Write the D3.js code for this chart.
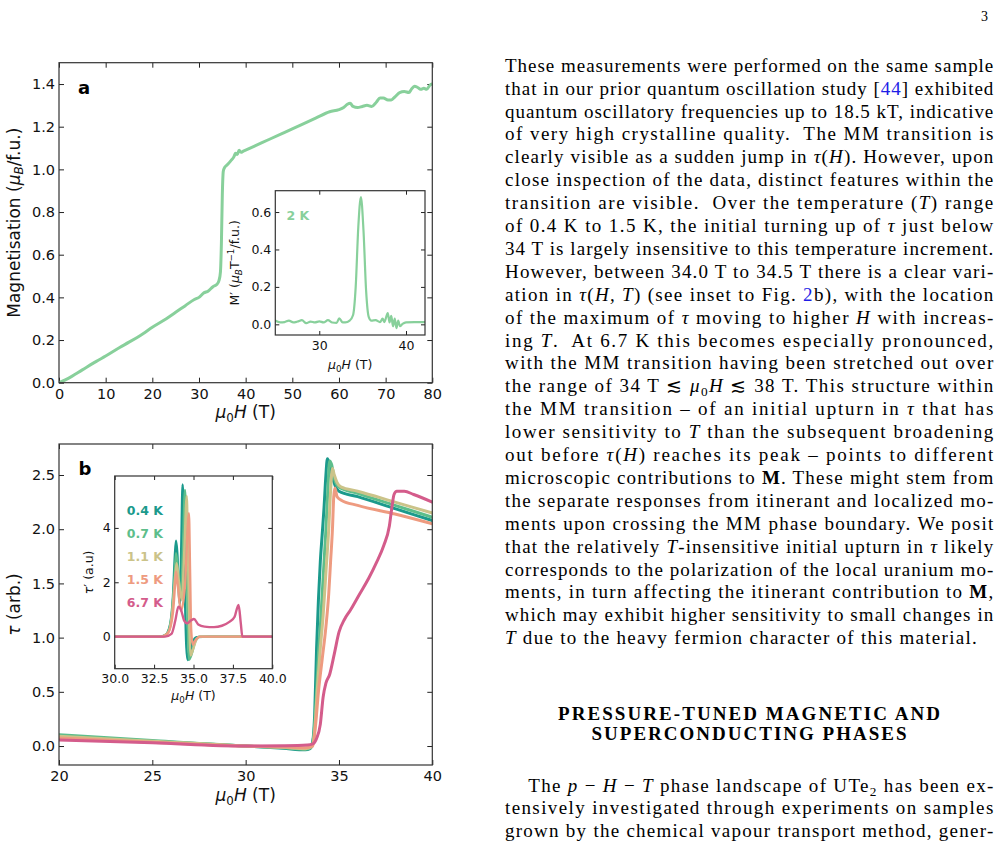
<!DOCTYPE html>
<html>
<head>
<meta charset="utf-8">
<script src="https://cdn.jsdelivr.net/npm/d3@7"></script>
<style>
  body { margin: 0; background: #fff; }
  svg text { font-family: "DejaVu Sans", sans-serif; white-space: pre; }
  .paper text { font-family: "Liberation Serif", "DejaVu Serif", serif; }
</style>
</head>
<body>
<svg id="page" width="1001" height="846"></svg>
<script>
// ---- panel a: magnetisation, 2 K
var magnetisation = [
  [0,0],[2,0.02],[5,0.06],[8,0.1],[10,0.125],[13,0.165],[15,0.19],[18,0.23],[20,0.26],
  [23,0.3],[25,0.33],[27,0.36],[29,0.39],[30,0.4],[31,0.42],[32,0.43],[33,0.45],[33.8,0.46],
  [34.3,0.48],[34.6,0.52],[34.8,0.65],[35.0,0.88],[35.2,0.99],[35.4,1.005],[36,1.02],
  [36.8,1.04],[37.5,1.06],[37.8,1.075],[38.2,1.07],[38.6,1.09],[39,1.08],[39.5,1.085],
  [40,1.09],[42,1.11],[45,1.14],[48,1.17],[50,1.19],[52,1.21],[55,1.24],[58,1.27],[60,1.28],
  [61,1.29],[61.8,1.305],[62.4,1.31],[63,1.295],[64,1.29],[65,1.295],[66,1.3],[67,1.295],
  [68,1.315],[68.8,1.335],[69.5,1.335],[70.5,1.325],[71.2,1.325],[72,1.34],[73,1.36],
  [74,1.365],[75,1.36],[75.5,1.375],[76.2,1.39],[76.8,1.385],[77.5,1.375],[78.2,1.38],
  [78.8,1.375],[79.5,1.395],[80,1.4]
]
var dMdH = [
  [24.9,0.02],[25.5,0.01],[26,0.012],[26.5,0.02],[27,0.01],[27.5,0.015],[28,0.022],[28.5,0.006],
  [29,0.015],[29.5,0.01],[30,0.016],[30.5,0.01],[31,0.022],[31.5,0.01],[32,0.008],[32.3,0.032],
  [32.7,0.01],[33,0.01],[33.5,0.02],[33.9,0.05],[34.2,0.2],[34.5,0.52],[34.8,0.68],[35.1,0.5],
  [35.4,0.18],[35.7,0.04],[36,0.02],[36.5,0.022],[37,0.012],[37.3,0.03],[37.5,0.012],[37.9,0.06],
  [38.1,0.01],[38.3,0.045],[38.5,-0.01],[38.7,0.03],[38.9,-0.02],[39.1,0.02],[39.3,-0.01],
  [39.6,0.002],[40,0.01],[41,0.012],[42.2,0.012]
]
var magTicksX = [0,10,20,30,40,50,60,70,80]
var magTicksY = [0,0.2,0.4,0.6,0.8,1.0,1.2,1.4]
var dMTicksX = [30,40]
var dMTicksY = [0,0.2,0.4,0.6]

// ---- panel b: torque at five temperatures
var temps = ['0.4 K','0.7 K','1.1 K','1.5 K','6.7 K']
var tempColors = ['#1b9a8c','#5dbe8b','#cbc389','#ee9b80','#d45c8b']
var tau04 = [[20,0.085],[25,0.045],[30,0],[32,-0.02],[33.2,-0.035],[33.45,-0.025],[33.6,0.05],[33.7,0.3],[33.8,0.9],[33.9,1.35],[34.0,1.7],[34.1,1.95],[34.2,2.2],[34.3,2.5],[34.38,2.65],[34.5,2.6],[34.65,2.48],[34.8,2.4],[35,2.35],[36,2.3],[38,2.19],[40,2.08]]
var tau07 = [[20,0.105],[25,0.05],[30,0],[32,-0.015],[33.2,-0.03],[33.5,-0.015],[33.65,0.1],[33.8,0.5],[33.9,0.85],[34.0,1.1],[34.15,1.55],[34.3,2.0],[34.4,2.35],[34.5,2.63],[34.6,2.6],[34.75,2.47],[35,2.39],[36,2.33],[38,2.22],[40,2.11]]
var tau11 = [[20,0.09],[25,0.045],[30,0],[32,-0.012],[33.2,-0.025],[33.55,-0.005],[33.7,0.15],[33.85,0.55],[34.0,0.9],[34.15,1.2],[34.3,1.6],[34.45,2.0],[34.55,2.35],[34.65,2.56],[34.75,2.5],[34.9,2.43],[35.1,2.39],[36,2.35],[38,2.25],[40,2.15]]
var tau15 = [[20,0.075],[25,0.035],[30,0],[32,-0.008],[33.2,-0.015],[33.6,0],[33.75,0.2],[33.9,0.5],[34.1,0.8],[34.3,1.1],[34.45,1.4],[34.55,1.7],[34.65,2.0],[34.72,2.3],[34.78,2.38],[34.9,2.3],[35.1,2.27],[36,2.22],[38,2.14],[40,2.05]]
var tau67 = [[20,0.055],[25,0.03],[30,0],[32,0.003],[33.3,0.01],[33.6,0.02],[33.8,0.07],[34.0,0.2],[34.15,0.45],[34.3,0.58],[34.5,0.66],[34.75,0.85],[35.0,1.05],[35.3,1.17],[35.6,1.25],[36.1,1.4],[36.6,1.55],[37.0,1.69],[37.4,1.85],[37.7,2.03],[37.85,2.22],[37.95,2.32],[38.1,2.35],[38.5,2.35],[39,2.32],[40,2.25]]
var dtau04 = [[30,0],[32.8,0],[33.2,0.05],[33.5,0.4],[33.7,1.5],[33.82,3.0],[33.89,3.53],[33.98,3.0],[34.08,1.5],[34.14,1.2],[34.22,3.2],[34.31,5.6],[34.38,4.3],[34.46,1.5],[34.55,-0.4],[34.63,-0.86],[34.75,-0.65],[34.95,-0.2],[35.2,-0.02],[36,0],[40,0]]
var dtau07 = [[30,0],[32.9,0],[33.3,0.1],[33.6,0.7],[33.78,2.0],[33.89,3.07],[34.0,2.5],[34.18,1.45],[34.32,3.0],[34.46,5.4],[34.54,4.0],[34.62,1.0],[34.72,-0.85],[34.85,-0.7],[35.1,-0.2],[35.35,0],[40,0]]
var dtau11 = [[30,0],[33,0],[33.4,0.15],[33.65,0.9],[33.83,2.2],[33.93,2.7],[34.08,2.0],[34.26,1.35],[34.42,3.2],[34.57,5.18],[34.64,3.5],[34.72,0.8],[34.82,-0.7],[34.95,-0.5],[35.2,-0.1],[35.45,0],[40,0]]
var dtau15 = [[30,0],[33,0],[33.4,0.15],[33.7,0.9],[33.84,2.0],[33.89,2.39],[34.0,1.9],[34.2,0.95],[34.45,1.8],[34.71,4.54],[34.78,2.5],[34.85,0.3],[34.95,-0.3],[35.1,-0.15],[35.4,0],[40,0]]
var dtau67 = [[30,0],[33.2,0],[33.6,0.1],[33.85,0.6],[34.04,1.1],[34.2,1.0],[34.4,0.6],[34.6,0.49],[34.85,0.6],[35.03,0.65],[35.3,0.45],[35.7,0.37],[36.3,0.35],[36.8,0.4],[37.3,0.55],[37.6,0.72],[37.86,1.17],[38.0,0.5],[38.1,0],[40,0]]
var tauTicksX = [20,25,30,35,40]
var tauTicksY = [0,0.5,1.0,1.5,2.0,2.5]
var dtauTicksX = [30,32.5,35,37.5,40]
var dtauTicksY = [0,2,4]

// ---- page text
var bodyLines = [
  'These measurements were performed on the same sample',
  'that in our prior quantum oscillation study [@44@] exhibited',
  'quantum oscillatory frequencies up to 18.5 kT, indicative',
  'of very high crystalline quality.  The MM transition is',
  'clearly visible as a sudden jump in *τ*(*H*). However, upon',
  'close inspection of the data, distinct features within the',
  'transition are visible.  Over the temperature (*T*) range',
  'of 0.4 K to 1.5 K, the initial turning up of *τ* just below',
  '34 T is largely insensitive to this temperature increment.',
  'However, between 34.0 T to 34.5 T there is a clear vari-',
  'ation in *τ*(*H, T*) (see inset to Fig. @2@b), with the location',
  'of the maximum of *τ* moving to higher *H* with increas-',
  'ing *T*.  At 6.7 K this becomes especially pronounced,',
  'with the MM transition having been stretched out over',
  'the range of 34 T ≲ *μ*~0~*H* ≲ 38 T. This structure within',
  'the MM transition – of an initial upturn in *τ* that has',
  'lower sensitivity to *T* than the subsequent broadening',
  'out before *τ*(*H*) reaches its peak – points to different',
  'microscopic contributions to #M#. These might stem from',
  'the separate responses from itinerant and localized mo-',
  'ments upon crossing the MM phase boundary. We posit',
  'that the relatively *T*-insensitive initial upturn in *τ* likely',
  'corresponds to the polarization of the local uranium mo-',
  'ments, in turn affecting the itinerant contribution to #M#,',
  'which may exhibit higher sensitivity to small changes in',
  '*T* due to the heavy fermion character of this material.'
]
var headingLines = ['PRESSURE-TUNED MAGNETIC AND', 'SUPERCONDUCTING PHASES']
var nextLines = [
  'The *p* − *H* − *T* phase landscape of UTe~2~ has been ex-',
  'tensively investigated through experiments on samples',
  'grown by the chemical vapour transport method, gener-'
]

var svg = d3.select('#page')
svg.append('rect').attr('width', 1001).attr('height', 846).attr('fill', '#fff')

// small markup: *italic*  #bold#  @link@  ~sub~  _italic sub_  ^sup^
function rich(sel, str, fs) {
  var shift = 0
  str.split(/(\*[^*]+\*|#[^#]+#|@[^@]+@|~[^~]+~|_[^_]+_|\^[^^]+\^)/).forEach(function(s){
    if (!s) return
    var c = s[0], txt = s.slice(1, -1), want = 0, t = sel.append('tspan')
    if (c == '*') t.attr('font-style', 'italic')
    else if (c == '#') t.attr('font-weight', 'bold')
    else if (c == '@') t.attr('fill', '#1d1de6')
    else if (c == '~' || c == '_') {
      want = 0.22 * fs
      t.attr('font-size', 0.7 * fs)
      if (c == '_') t.attr('font-style', 'italic')
    }
    else if (c == '^') { want = -0.4 * fs; t.attr('font-size', 0.7 * fs) }
    else txt = s
    if (want != shift) t.attr('dy', want - shift)
    shift = want
    t.text(txt)
  })
}

var clipN = 0
function axes(box, xDom, yDom, o) {
  var g = svg.append('g')
  var x = d3.scaleLinear().domain(xDom).range([box.l, box.r])
  var y = d3.scaleLinear().domain(yDom).range([box.b, box.t])
  var id = 'clip' + (clipN++)
  g.append('rect').attr('x', box.l).attr('y', box.t)
    .attr('width', box.r - box.l).attr('height', box.b - box.t).attr('fill', '#fff')
  g.append('clipPath').attr('id', id).append('rect')
    .attr('x', box.l).attr('y', box.t).attr('width', box.r - box.l).attr('height', box.b - box.t)

  var sides = [
    [d3.axisBottom(x).tickValues(o.xt).tickFormat(o.xf), 'translate(0,' + box.b + ')'],
    [d3.axisTop(x).tickValues(o.xt).tickFormat(''), 'translate(0,' + box.t + ')'],
    [d3.axisLeft(y).tickValues(o.yt).tickFormat(o.yf), 'translate(' + box.l + ',0)'],
    [d3.axisRight(y).tickValues(o.yt).tickFormat(''), 'translate(' + box.r + ',0)']
  ]
  sides.forEach(function(s, i){
    var a = g.append('g').attr('transform', s[1])
      .call(s[0].tickSizeInner(-o.tick).tickSizeOuter(0).tickPadding(i == 2 ? o.padY : o.padX))
    a.attr('font-size', o.fs).attr('font-family', '"DejaVu Sans", sans-serif')
    a.select('.domain').remove()
    a.selectAll('line').attr('stroke', '#222').attr('stroke-width', 1)
    a.selectAll('text').attr('fill', '#111')
  })

  var plot = g.append('g').attr('clip-path', 'url(#' + id + ')')
  o.series.forEach(function(s){
    var line = d3.line().x(function(d){ return x(d[0]) }).y(function(d){ return y(d[1]) })
      .curve(d3.curveMonotoneX)
    plot.append('path').attr('d', line(s.data)).attr('fill', 'none')
      .attr('stroke', s.color).attr('stroke-width', o.lw)
      .attr('stroke-linejoin', 'round').attr('stroke-linecap', 'round')
  })

  g.append('rect').attr('x', box.l).attr('y', box.t)
    .attr('width', box.r - box.l).attr('height', box.b - box.t)
    .attr('fill', 'none').attr('stroke', '#333').attr('stroke-width', 1.2)

  var xl = g.append('text').attr('x', (box.l + box.r) / 2).attr('y', o.xlY)
    .attr('text-anchor', 'middle').attr('font-size', o.lfs).attr('fill', '#111')
  rich(xl, o.xl, o.lfs)
  var yl = g.append('text').attr('transform', 'translate(' + o.ylX + ',' + (box.t + box.b) / 2 + ') rotate(-90)')
    .attr('text-anchor', 'middle').attr('font-size', o.lfs).attr('fill', '#111')
  rich(yl, o.yl, o.lfs)
  return g
}

var f1 = d3.format('.1f')

// panel a
var gA = axes({l: 59, r: 432.3, t: 62.7, b: 382.7}, [0, 80], [0, 1.5], {
  xt: magTicksX, yt: magTicksY, xf: d3.format('d'), yf: f1,
  fs: 14.5, lfs: 17, tick: 5, padX: 6, padY: 4, lw: 3,
  xl: '*μ*~0~*H* (T)', xlY: 418, yl: 'Magnetisation (*μ*_B_/f.u.)', ylX: 19.5,
  series: [{data: magnetisation, color: '#88d09b'}]
})
gA.append('text').attr('x', 78).attr('y', 93.5).attr('font-size', 18).attr('font-weight', 'bold').text('a')

var gAi = axes({l: 275.3, r: 425, t: 190.7, b: 335}, [24.93, 42.19], [-0.057, 0.714], {
  xt: dMTicksX, yt: dMTicksY, xf: d3.format('d'), yf: f1,
  fs: 12.5, lfs: 12.5, tick: 4, padX: 6, padY: 4, lw: 2.2,
  xl: '*μ*~0~*H* (T)', xlY: 369, yl: 'M′ (*μ*_B_T^−1^/f.u.)', ylX: 239,
  series: [{data: dMdH, color: '#88d09b'}]
})
gAi.append('text').attr('x', 286.5).attr('y', 220).attr('font-size', 12.5)
  .attr('font-weight', 'bold').attr('fill', '#88d09b').text('2 K')

// panel b
var tauSeries = [tau04, tau07, tau11, tau15, tau67]
var dtauSeries = [dtau04, dtau07, dtau11, dtau15, dtau67]
var gB = axes({l: 59, r: 432.3, t: 444, b: 765}, [20, 40], [-0.175, 2.786], {
  xt: tauTicksX, yt: tauTicksY, xf: d3.format('d'), yf: f1,
  fs: 14.5, lfs: 17, tick: 5, padX: 6, padY: 4, lw: 3,
  xl: '*μ*~0~*H* (T)', xlY: 801, yl: '*τ* (arb.)', ylX: 19.5,
  series: tauSeries.map(function(d, i){ return {data: d, color: tempColors[i]} })
})
gB.append('text').attr('x', 78.5).attr('y', 475).attr('font-size', 18).attr('font-weight', 'bold').text('b')

var gBi = axes({l: 114.7, r: 272.3, t: 476, b: 668.7}, [30, 40], [-1.18, 5.91], {
  xt: dtauTicksX, yt: dtauTicksY, xf: f1, yf: d3.format('d'),
  fs: 12.5, lfs: 12.5, tick: 4, padX: 5.5, padY: 4, lw: 2.4,
  xl: '*μ*~0~*H* (T)', xlY: 700, yl: '*τ*′ (a.u)', ylX: 93,
  series: dtauSeries.map(function(d, i){ return {data: d, color: tempColors[i]} })
})
gBi.selectAll('.lab').data(temps).join('text')
  .attr('x', 126.7).attr('y', function(d, i){ return 515 + i * 23 })
  .attr('font-size', 12.5).attr('font-weight', 'bold')
  .attr('fill', function(d, i){ return tempColors[i] }).text(function(d){ return d })

// page text column
var paper = svg.append('g').attr('class', 'paper').attr('fill', '#000')
paper.append('text').attr('x', 988).attr('y', 20.5).attr('text-anchor', 'end').attr('font-size', 14).text('3')

bodyLines.forEach(function(s, i){
  var last = i == bodyLines.length - 1
  var t = paper.append('text').attr('x', 505).attr('y', 71.7 + i * 22.9).attr('font-size', 19)
    .attr('textLength', last ? 471.7 : 488.3).attr('lengthAdjust', 'spacing')
  rich(t, s, 19)
})
headingLines.forEach(function(s, i){
  paper.append('text').attr('x', 749).attr('y', 720 + i * 19.5).attr('text-anchor', 'middle')
    .attr('font-size', 19).attr('font-weight', 'bold')
    .attr('textLength', i ? 315 : 382).attr('lengthAdjust', 'spacing').text(s)
})
nextLines.forEach(function(s, i){
  var x0 = i ? 505 : 528.3
  var t = paper.append('text').attr('x', x0).attr('y', 791.7 + i * 22.6).attr('font-size', 19)
    .attr('textLength', 993.3 - x0).attr('lengthAdjust', 'spacing')
  rich(t, s, 19)
})
</script>
</body>
</html>
